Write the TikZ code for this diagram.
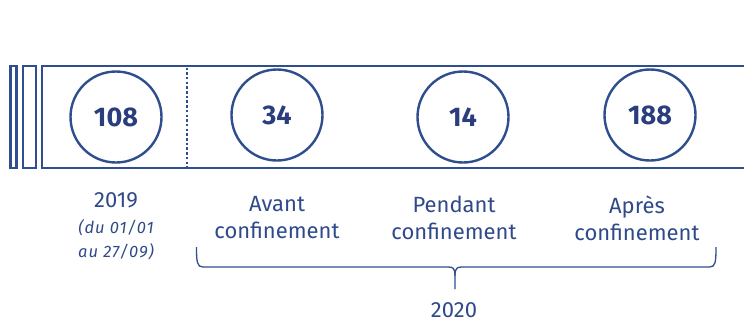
\documentclass[tikz,border=0pt]{standalone}
\usepackage{fontspec}
\setmainfont{Fira Sans}
\newfontfamily\spacedit[LetterSpace=6]{Fira Sans}
\definecolor{bandblue}{HTML}{2E4E8E}
\definecolor{numblue}{HTML}{2A3D7C}
\definecolor{txtblue}{HTML}{2F4A8A}
\begin{document}
\begin{tikzpicture}[x=1pt,y=-1pt,
  bandline/.style={draw=bandblue,line width=2.6pt},
  circ/.style={circle,draw=bandblue,line width=2.4pt,minimum size=91pt,inner sep=0pt,
    font=\fontsize{27}{30}\selectfont\bfseries,text=numblue},
  lbl/.style={align=center,text=txtblue,font=\fontsize{22}{27}\selectfont},
  sublbl/.style={align=center,text=txtblue,font=\spacedit\fontsize{16.5}{24}\selectfont\itshape}]
\useasboundingbox (0,0) rectangle (744,322);
% thin bars
\draw[bandline] (10.5,66) rectangle (16.5,168);
\draw[bandline] (23,66) rectangle (36,168);
\draw[bandline] (744,66) -- (42,66) -- (42,168) -- (744,168);
\draw[draw=bandblue,line width=2.2pt,dash pattern=on 2.5pt off 2.2pt] (187,67.5) -- (187,166.5);
% circles
\node[circ] (c1) at (116,117) {108};
\node[circ] (c2) at (277,115) {34};
\node[circ] (c3) at (463,117) {14};
\node[circ] (c4) at (650,115) {188};
% labels
\node[lbl] (l1) at (116,200) {2019};
\node[sublbl] (l1b) at (116,240) {(du 01/01\\au 27/09)};
\node[lbl] (l2) at (277,218) {Avant\\confinement};
\node[lbl] (l3) at (454,218) {Pendant\\confinement};
\node[lbl] (l4) at (637,218) {Après\\confinement};
% brace
\draw[draw=bandblue,line width=1.3pt]
  (196.5,247) .. controls (196.5,262) and (197,267) .. (203,267)
  -- (448,267) .. controls (453,267) and (455,268) .. (455,276) -- (455,289);
\draw[draw=bandblue,line width=1.3pt]
  (716,247) .. controls (716,262) and (715.5,267) .. (709.5,267)
  -- (462,267) .. controls (457,267) and (455,268) .. (455,276);
\node[lbl,anchor=base,inner sep=0pt] (y2020) at (454,317) {2020};
\end{tikzpicture}
\end{document}
